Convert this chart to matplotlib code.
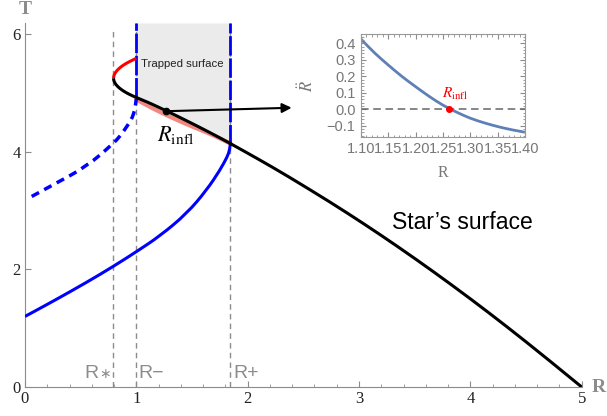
import numpy as np
import matplotlib.pyplot as plt
from matplotlib.path import Path
from matplotlib.patches import PathPatch

plt.rcParams['mathtext.fontset'] = 'stix'

# star's surface (black), trapped branch (red)
star_R = [0.795, 0.7967, 0.8043, 0.818, 0.8378, 0.8636, 0.8955, 0.9335, 0.99, 1.1, 1.2, 1.3, 1.43, 1.55, 1.65, 1.75, 1.845,
          2.10, 2.35, 2.74, 3.05, 3.34, 3.67, 4.0, 4.33, 4.67, 5.0]
star_T = [5.25, 5.22, 5.18, 5.14, 5.10, 5.06, 5.02, 4.98, 4.93, 4.845, 4.758, 4.668, 4.548, 4.434, 4.337, 4.237, 4.14,
          3.871, 3.597, 3.146, 2.768, 2.399, 1.96, 1.502, 1.024, 0.512, 0.0]
red_R = [0.795, 0.7978, 0.8063, 0.8205, 0.8403, 0.8658, 0.897, 0.9338, 0.9996]
red_T = [5.25, 5.29, 5.33, 5.37, 5.41, 5.45, 5.49, 5.53, 5.59]

# horizons (blue)
dash_R = [0.06, 0.254, 0.554, 0.793, 0.86, 0.914, 0.95, 0.973, 0.99, 1.0]
dash_T = [3.24, 3.44, 3.75, 4.14, 4.28, 4.43, 4.53, 4.63, 4.75, 4.90]
solid_R = [0.0, 0.254, 0.554, 0.793, 1.0, 1.213, 1.453, 1.632, 1.752, 1.818, 1.838, 1.845]
solid_T = [1.20, 1.46, 1.78, 2.05, 2.30, 2.57, 2.95, 3.35, 3.69, 3.92, 4.03, 4.14]

# inflection band
pink_R = [1.0, 1.1, 1.2, 1.3, 1.43, 1.55, 1.65, 1.75, 1.845]
pink_T = [4.89, 4.785, 4.688, 4.597, 4.487, 4.392, 4.315, 4.228, 4.14]

R_star, R_minus, R_plus = 0.793, 1.0, 1.845
infl_pt = (1.265, 4.69)

# inset data
in_R = [1.10, 1.125, 1.15, 1.175, 1.20, 1.225, 1.25, 1.275, 1.30, 1.325, 1.35, 1.375, 1.40]
in_Rdd = [0.426, 0.34, 0.268, 0.198, 0.137, 0.077, 0.024, -0.018, -0.055, -0.082, -0.105, -0.124, -0.139]
R_infl = 1.261

TOP = 6.19
grey = '#8c8c8c'


def curve(ax, xs, ys, **kw):
    # quadratic bezier through the midpoints, so the read points don't show as corners
    p = list(zip(xs, ys))
    verts = [p[0], ((p[0][0] + p[1][0]) / 2, (p[0][1] + p[1][1]) / 2)]
    codes = [Path.MOVETO, Path.LINETO]
    for i in range(1, len(p) - 1):
        nxt = p[i + 1] if i + 1 == len(p) - 1 else ((p[i][0] + p[i + 1][0]) / 2, (p[i][1] + p[i + 1][1]) / 2)
        verts += [p[i], nxt]
        codes += [Path.CURVE3, Path.CURVE3]
    ax.add_patch(PathPatch(Path(verts, codes), fill=False, **kw))


fig = plt.figure(figsize=(6.07, 4.16), dpi=100)
ax = fig.add_axes([25 / 607, 1 - 387 / 416, 556.7 / 607, 364 / 416])

# shaded trapped region
seg = np.linspace(R_minus, R_plus, 60)
ax.fill_between(seg, np.interp(seg, star_R, star_T), TOP, color='#ebebeb', lw=0, zorder=1)
ax.fill_between(pink_R, pink_T, np.interp(pink_R, star_R, star_T), color='#ffff99', lw=0, zorder=2)

for xv, y0 in [(R_star, 6.08), (R_minus, TOP), (R_plus, TOP)]:
    ax.plot([xv, xv], [0, y0], color=grey, ls=(0, (4, 3)), lw=1, zorder=2)

curve(ax, pink_R, pink_T, color='#f4877f', lw=3, zorder=3, capstyle='round')
ax.plot([R_minus, R_minus], [4.93, TOP], color='#0000ff', lw=2, ls=(0, (7, 1)), zorder=4)
ax.plot([R_plus, R_plus], [4.14, TOP], color='#0000ff', lw=2, ls=(0, (7, 1)), zorder=4)
curve(ax, dash_R, dash_T, color='#0000ff', lw=2.5, ls=(0, (2.4, 1.7)), zorder=4)
curve(ax, solid_R, solid_T, color='#0000ff', lw=2.2, zorder=4)
curve(ax, red_R, red_T, color='#ff0000', lw=2.2, zorder=5)
curve(ax, star_R, star_T, color='black', lw=2.2, zorder=6)

ax.plot(*infl_pt, 'o', color='black', ms=4.5, zorder=7)
ax.annotate('', xy=(2.42, 4.75), xytext=infl_pt,
            arrowprops=dict(arrowstyle='-|>', color='black', lw=1.5, mutation_scale=14), zorder=7)

ax.text(1.19, 4.29, r'$R_{\mathrm{infl}}$', fontsize=16, ha='left', va='center', zorder=8)
ax.text(1.045, 5.50, 'Trapped surface', fontsize=8.2, family='Liberation Sans', va='center', color='#222222')
ax.text(3.30, 2.80, 'Star\u2019s surface', fontsize=16.5, family='Liberation Sans', va='center')
lab = dict(fontsize=14, color=grey, va='baseline', family='Liberation Sans')
ax.text(0.535, 0.148, 'R', **lab)
ax.text(0.72, 0.22, '\u2217', fontsize=10, color=grey, ha='center', va='center', family='DejaVu Sans')
ax.text(1.02, 0.148, 'R\u2212', **lab)
ax.text(1.87, 0.148, 'R+', **lab)

ax.set_xlim(0, 5)
ax.set_ylim(0, TOP)
for s in ['top', 'right']:
    ax.spines[s].set_visible(False)
for s in ['left', 'bottom']:
    ax.spines[s].set_color(grey)
ax.set_xticks([0, 1, 2, 3, 4, 5])
ax.set_xticks(np.arange(0, 5.01, 0.2), minor=True)
ax.set_yticks([0, 2, 4, 6])
ax.tick_params(direction='in', length=4, color=grey, labelsize=12, labelcolor='#222222', pad=3)
ax.tick_params(which='minor', direction='in', length=2.2, color=grey)
for t in ax.get_xticklabels() + ax.get_yticklabels():
    t.set_family('Liberation Serif')

fig.text(25 / 607, 1 - 1 / 416, 'T', fontsize=14, weight='bold', family='Liberation Serif', color=grey,
         ha='center', va='top')
fig.text(599 / 607, 1 - 388 / 416, 'R', fontsize=14, weight='bold', family='Liberation Serif', color=grey,
         ha='center', va='center')

# inset
ins = fig.add_axes([361 / 607, 1 - 136.7 / 416, 164 / 607, 102.4 / 416])
curve(ins, in_R, in_Rdd, color='#5e81b5', lw=2)
ins.axhline(0, color='#666666', ls=(0, (5, 3)), lw=1.1)
ins.plot(R_infl, 0, 'o', color='#ff0000', ms=4)
ins.text(1.272, 0.093, r'$R_{\mathrm{infl}}$', color='#ff0000', fontsize=11, ha='center', va='center')
ins.set_xlim(1.1, 1.4)
ins.set_ylim(-0.166, 0.455)
ins.set_xticks(np.arange(1.10, 1.401, 0.05))
ins.set_xticklabels(['1.10', '1.15', '1.20', '1.25', '1.30', '1.35', '1.40'])
ins.set_xticks(np.arange(1.10, 1.401, 0.01), minor=True)
ins.set_yticks([-0.1, 0.0, 0.1, 0.2, 0.3, 0.4])
ins.set_yticklabels(['\u22120.1', '0.0', '0.1', '0.2', '0.3', '0.4'])
ins.set_yticks(np.arange(-0.16, 0.455, 0.02), minor=True)
ins.tick_params(which='both', direction='in', top=True, right=True, color=grey,
                labelsize=10.5, labelcolor='#777777', pad=4)
ins.tick_params(which='major', length=3.5)
ins.tick_params(which='minor', length=1.8)
for t in ins.get_xticklabels() + ins.get_yticklabels():
    t.set_family('Liberation Sans')
for s in ins.spines.values():
    s.set_color('#999999')
ins.set_xlabel('R', family='Liberation Serif', fontsize=11.5, color='#777777', labelpad=6)
ins.set_ylabel(r'$\ddot{R}$', fontsize=12, color='#777777', labelpad=7)

fig.savefig('out.png', dpi=100)
